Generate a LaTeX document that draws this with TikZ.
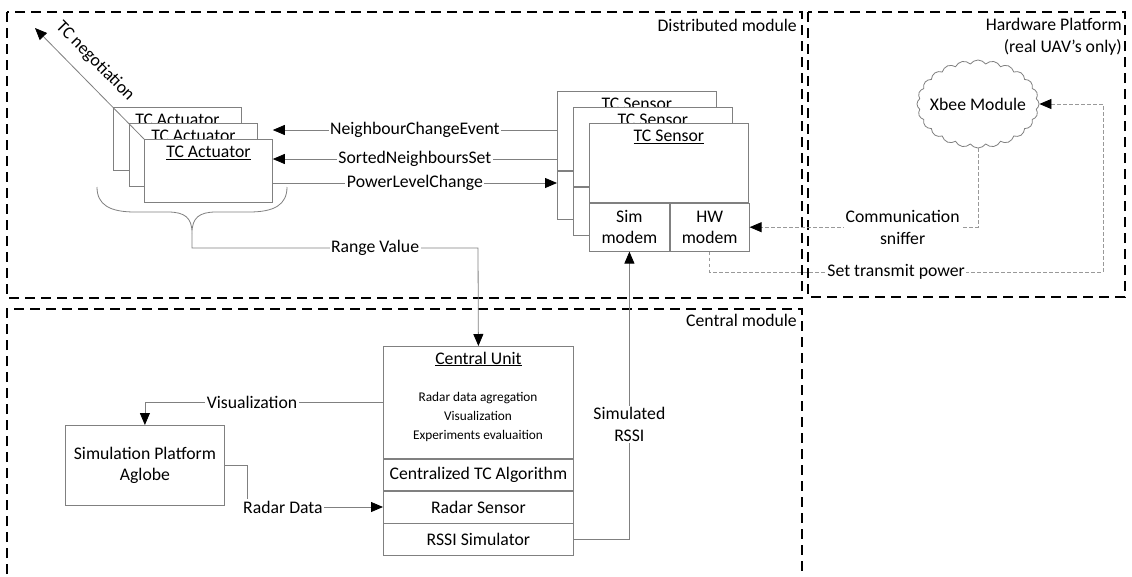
\documentclass[tikz,border=0pt]{standalone}
\usepackage{fontspec}
\setmainfont{Carlito}
\usetikzlibrary{arrows.meta,shapes.symbols,calc}
\begin{document}
\begin{tikzpicture}[x=1pt,y=-1pt,
  font=\fontsize{17.7}{21.5}\selectfont,
  module/.style={draw=black, line width=1.9pt, dash pattern=on 10pt off 6pt},
  bx/.style={draw=black!50, fill=white, line width=0.8pt, inner sep=0pt, anchor=north west},
  conn/.style={draw=black!50, line width=0.8pt},
  dconn/.style={draw=black!40, line width=0.8pt, dash pattern=on 3.5pt off 2.5pt},
  arr/.style={-{Triangle[length=12pt,width=10pt,color=black]}},
  lbl/.style={fill=white, inner sep=1.5pt, align=center},
  small/.style={font=\fontsize{13.3}{19}\selectfont}
]
\useasboundingbox (0,0) rectangle (1132,576);
\fill[white] (0,0) rectangle (1132,576);

% module frames
\draw[module] (7,12) rectangle (802,298);
\draw[module] (808,12) rectangle (1125,297);
\draw[module] (7,590) -- (7,309) -- (802,309) -- (802,590);
\node[anchor=east, inner sep=0pt] (lbldist) at (797,25) {Distributed module};
\node[anchor=east, inner sep=0pt, align=right] (lblhw) at (1122,37) {Hardware Platform\\(real UAV’s only)};
\node[anchor=east, inner sep=0pt] (lblcen) at (797,320) {Central module};

% TC actuators
\foreach \i/\x/\y in {1/113/107, 2/129/123, 3/144/139}{
  \node[bx, minimum width=128pt, minimum height=63pt] (act\i) at (\x,\y) {};
  \node[inner sep=0pt] (actt\i) at ($(act\i.north)+(0,14)$) {\underline{TC Actuator}};
}

% TC negotiation
\coordinate (neg) at (35,28);
\draw[conn, arr] (act3.north west) -- (neg);
\node[rotate=-45.5, inner sep=0pt] (negl) at (95,61) {TC negotiation};

% TC sensors (back copies)
\foreach \i/\x/\y in {1/557/91, 2/573/107}{
  \node[bx, minimum width=159pt, minimum height=79pt] (st\i) at (\x,\y) {};
  \node[inner sep=0pt] (stt\i) at ($(st\i.north)+(0,14)$) {\underline{TC Sensor}};
  \node[bx, minimum width=80pt, minimum height=48pt] (sm\i) at (st\i.south west) {};
  \node[bx, minimum width=79pt, minimum height=48pt] (hw\i) at (sm\i.north east) {};
}
% front TC sensor
\node[bx, minimum width=159pt, minimum height=79pt] (st3) at (589,123) {};
\node[inner sep=0pt] (stt3) at ($(st3.north)+(0,14)$) {\underline{TC Sensor}};
\node[bx, minimum width=80pt, minimum height=48pt, align=center] (sm3) at (st3.south west) {Sim\\modem};
\node[bx, minimum width=79pt, minimum height=48pt, align=center] (hw3) at (sm3.north east) {HW\\modem};

% arrows between actuators and sensors
\coordinate (p1) at ($(st1.north west)+(0,39)$);
\coordinate (p2) at ($(st1.north west)+(0,68)$);
\coordinate (p3) at ($(act3.north east)+(0,44)$);
\draw[conn, arr] (p1) -- node[lbl] {NeighbourChangeEvent} (p1 -| act3.east);
\draw[conn, arr] (p2) -- node[lbl] {SortedNeighboursSet} (p2 -| act3.east);
\draw[conn, arr] (p3) -- node[lbl] {PowerLevelChange} (p3 -| st1.west);

% brace
\coordinate (brace) at (192,233);
\draw[conn] (97,187) .. controls (97,205) and (110,212) .. (135,212) -- (168,212)
  .. controls (185,212) and (192,218) .. (brace)
  .. controls (192,218) and (199,212) .. (216,212) -- (249,212)
  .. controls (274,212) and (287,205) .. (287,187);

% Xbee cloud
\node[cloud, draw=black!50, fill=white, line width=0.8pt, cloud puffs=24, cloud puff arc=110, aspect=1.4,
  minimum width=122pt, minimum height=88pt, inner sep=0pt] (xbee) at (978,104) {\makebox[0pt]{Xbee Module}};

% central unit
\node[bx, minimum width=190pt, minimum height=112pt] (cu) at (383,346) {};
\node[inner sep=0pt] (cut) at ($(cu.north)+(0,13)$) {\underline{Central Unit}};
\node[small, align=center, inner sep=0pt] (cud) at (478,417) {Radar data agregation\\Visualization\\Experiments evaluaition};
\node[bx, minimum width=190pt, minimum height=31pt] (cta) at (cu.south west) {Centralized TC Algorithm};
\node[bx, minimum width=190pt, minimum height=32pt] (rs) at (cta.south west) {Radar Sensor};
\node[bx, minimum width=190pt, minimum height=32pt] (rsim) at (rs.south west) {RSSI Simulator};

% simulation platform
\node[bx, minimum width=159pt, minimum height=80pt, align=center] (sp) at (65,425) {Simulation Platform\\Aglobe};

% connectors
\draw[conn, arr] (brace) -- ++(0,15) -- node[lbl, pos=0.64] {Range Value} (478,248) -- (cu.north);
\draw[conn, arr] (rsim.east) -| node[lbl, pos=0.70] {Simulated\\RSSI} (sm3.south);
\draw[conn, arr] (cu.west) -| node[lbl, pos=0.275] {Visualization} (sp.north);
\draw[conn, arr] (sp.east) -- ++(23,0) |- node[lbl, pos=0.63] {Radar Data} (rs.west);

\coordinate (stp) at (1103,272);
\draw[dconn, arr] (xbee.south) |- node[lbl, pos=0.665] {Communication\\sniffer} (hw3.east);
\draw[dconn, arr] (hw3.south) |- node[lbl, pos=0.737] {Set transmit power} (stp) |- (xbee.east);
\end{tikzpicture}
\end{document}
